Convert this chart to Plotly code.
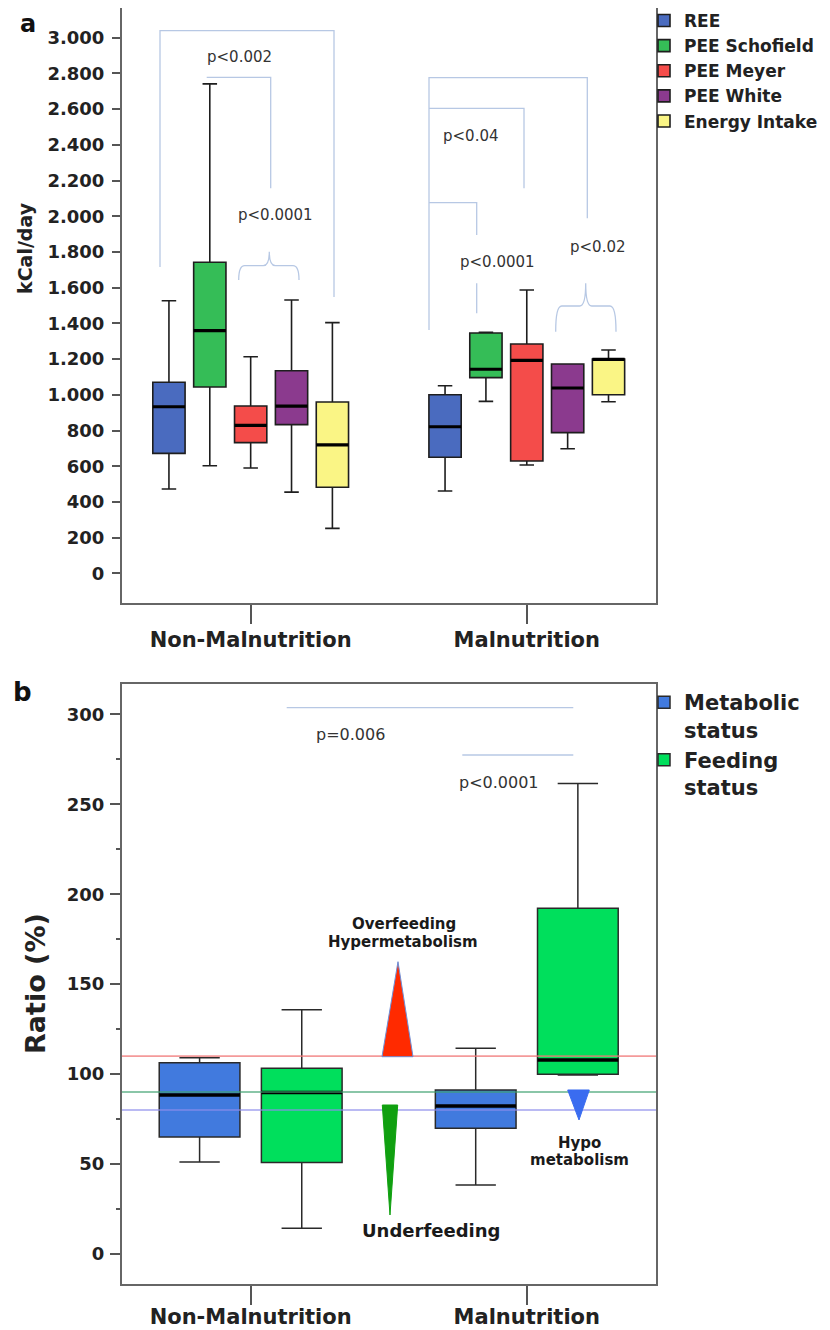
import plotly.graph_objects as go

# ---------------- data ----------------
groups = ["Non-Malnutrition", "Malnutrition"]

a_series = ["REE", "PEE Schofield", "PEE Meyer", "PEE White", "Energy Intake"]
a_colors = ["#4a6bbf", "#35bd57", "#f44c4a", "#8b3a8e", "#faf585"]
a_lowerfence = [[472, 461], [603, 963], [590, 607], [455, 698], [252, 961]]
a_q1 = [[672, 650], [1044, 1096], [732, 629], [833, 788], [482, 1000]]
a_median = [[933, 821], [1359, 1143], [829, 1193], [937, 1038], [720, 1198]]
a_q3 = [[1070, 1000], [1742, 1346], [937, 1284], [1135, 1172], [960, 1200]]
a_upperfence = [[1527, 1051], [2741, 1350], [1213, 1587], [1531, 1172], [1404, 1251]]

b_series = ["Metabolic<br>status", "Feeding<br>status"]
b_colors = ["#417ade", "#00df5c"]
b_lowerfence = [[51.1, 38.4], [14.3, 99.5]]
b_q1 = [[65.0, 69.9], [50.8, 99.9]]
b_median = [[88.4, 82.3], [89.7, 107.8]]
b_q3 = [[106.3, 91.2], [103.2, 192.2]]
b_upperfence = [[109.1, 114.3], [135.8, 261.6]]

b_ref_values = [110, 90, 80]
b_ref_colors = ["rgba(240,120,120,0.75)", "rgba(60,160,110,0.8)", "rgba(140,140,235,0.8)"]

# ---------------- page pixel -> paper helpers (for decorations) ----------------
# the page body has an 8px margin; plot area spans page pixels L..R, T..B
L, R, T, B = 122, 656, 8, 1284
W, H = R - L, B - T
FIG_W, FIG_H = 822, 1322


def px(x):
    return (x - L) / W


def py(y):
    return (B - y) / H


fig = go.Figure()

# panel a boxes
for i, name in enumerate(a_series):
    fig.add_trace(go.Box(
        x=groups, q1=a_q1[i], median=a_median[i], q3=a_q3[i],
        lowerfence=a_lowerfence[i], upperfence=a_upperfence[i],
        name=name, fillcolor=a_colors[i], line=dict(color="#1e1e1e", width=1.6),
        whiskerwidth=0.45, offsetgroup="a%d" % i, xaxis="x", yaxis="y",
        legend="legend", boxpoints=False, hoverinfo="skip"))
    fig.add_trace(go.Box(
        x=groups, q1=a_median[i], median=a_median[i], q3=a_median[i],
        lowerfence=a_median[i], upperfence=a_median[i],
        name=name, fillcolor="rgba(0,0,0,0)", line=dict(color="#000000", width=3.2),
        whiskerwidth=0, offsetgroup="a%d" % i, xaxis="x", yaxis="y",
        showlegend=False, boxpoints=False, hoverinfo="skip"))

# panel b boxes
for i, name in enumerate(b_series):
    fig.add_trace(go.Box(
        x=groups, q1=b_q1[i], median=b_median[i], q3=b_q3[i],
        lowerfence=b_lowerfence[i], upperfence=b_upperfence[i],
        name=name, fillcolor=b_colors[i], line=dict(color="#2a2a2a", width=1.5),
        whiskerwidth=0.5, offsetgroup="b%d" % i, xaxis="x2", yaxis="y2",
        legend="legend2", boxpoints=False, hoverinfo="skip"))
    fig.add_trace(go.Box(
        x=groups, q1=b_median[i], median=b_median[i], q3=b_median[i],
        lowerfence=b_median[i], upperfence=b_median[i],
        name=name, fillcolor="rgba(0,0,0,0)", line=dict(color="#000000", width=3.5),
        whiskerwidth=0, offsetgroup="b%d" % i, xaxis="x2", yaxis="y2",
        showlegend=False, boxpoints=False, hoverinfo="skip"))

shapes = []
annotations = []

# reference lines panel b
for v, c in zip(b_ref_values, b_ref_colors):
    shapes.append(dict(type="line", xref="x2 domain", yref="y2", x0=0, x1=1, y0=v, y1=v,
                       line=dict(color=c, width=1.6), layer="above"))

BR = "#b7c8e4"


def poly(pts):
    d = "M " + " L ".join("%.5f,%.5f" % (px(x), py(y)) for x, y in pts)
    shapes.append(dict(type="path", xref="paper", yref="paper", path=d,
                       line=dict(color=BR, width=1.3)))


def brace(x1, x2, xc, yb, yh, yt):
    r = 6
    d = ("M %.5f,%.5f Q %.5f,%.5f %.5f,%.5f L %.5f,%.5f Q %.5f,%.5f %.5f,%.5f "
         "Q %.5f,%.5f %.5f,%.5f L %.5f,%.5f Q %.5f,%.5f %.5f,%.5f") % (
        px(x1), py(yb), px(x1), py(yh), px(x1 + r), py(yh),
        px(xc - r), py(yh), px(xc), py(yh), px(xc), py(yt),
        px(xc), py(yh), px(xc + r), py(yh),
        px(x2 - r), py(yh), px(x2), py(yh), px(x2), py(yb))
    shapes.append(dict(type="path", xref="paper", yref="paper", path=d,
                       line=dict(color=BR, width=1.3)))


# panel a brackets
poly([(160, 267), (160, 30.7), (334, 30.7), (334, 297)])
poly([(206.7, 77.3), (270.7, 77.3), (270.7, 188.3)])
brace(238.7, 299, 269.3, 280, 265.7, 251.7)
poly([(429, 330), (429, 77.7), (587.3, 77.7), (587.3, 218.3)])
poly([(429, 108.3), (524, 108.3), (524, 188.3)])
poly([(429, 202.7), (476.7, 202.7), (476.7, 235)])
poly([(476.7, 283.3), (476.7, 313.3)])
brace(555.7, 616, 585.7, 331.7, 306, 283.3)

# panel b brackets
poly([(286.7, 707.7), (573.3, 707.7)])
poly([(462.3, 755), (573.3, 755)])


def tri(pts, fill, line=None):
    d = "M " + " L ".join("%.5f,%.5f" % (px(x), py(y)) for x, y in pts) + " Z"
    shapes.append(dict(type="path", xref="paper", yref="paper", path=d, fillcolor=fill,
                       line=dict(color=line or fill, width=1), layer="above"))


tri([(382, 1056.7), (398, 961.7), (413, 1056.7)], "#ff2a00", "#6d8fd8")
tri([(382.3, 1105), (397.7, 1105), (390, 1215)], "#10a010")
tri([(567.7, 1090), (589.3, 1090), (579, 1120)], "#3a6cf0")


def text(x, y, s, size=15, bold=False, color="#333333", angle=0):
    annotations.append(dict(xref="paper", yref="paper", x=px(x), y=py(y), text=s,
                            showarrow=False, xanchor="center", yanchor="middle",
                            textangle=angle,
                            font=dict(family="DejaVu Sans", size=size, color=color,
                                      weight="bold" if bold else "normal")))


text(239, 57.3, "p<0.002")
text(275.5, 215, "p<0.0001")
text(471.3, 136, "p<0.04")
text(497.5, 262.3, "p<0.0001")
text(598, 246.7, "p<0.02")
text(350.5, 734, "p=0.006", size=16)
text(498.8, 782.3, "p<0.0001", size=16)
text(403.5, 923.5, "Overfeeding", size=15, bold=True, color="#1a1a1a")
text(403, 942, "Hypermetabolism", size=15, bold=True, color="#1a1a1a")
text(430.5, 1230.7, "Underfeeding", size=18, bold=True, color="#1a1a1a")
text(579, 1143.3, "Hypo", size=15, bold=True, color="#1a1a1a")
text(579, 1160, "metabolism", size=15, bold=True, color="#1a1a1a")
text(28, 24, "a", size=24, bold=True, color="#111111")
text(22, 692, "b", size=26, bold=True, color="#111111")
# axis titles
text(25, 248, "kCal/day", size=19, bold=True, color="#222222", angle=-90)
text(35, 984, "Ratio (%)", size=27, bold=True, color="#222222", angle=-90)

fig.update_layout(
    width=FIG_W, height=FIG_H,
    margin=dict(l=L - 8, r=FIG_W - (R - 8), t=T - 8, b=FIG_H - (B - 8), autoexpand=False),
    plot_bgcolor="white", paper_bgcolor="white",
    boxmode="group", boxgap=0.26, boxgroupgap=0.21,
    separators=",.",
    font=dict(family="DejaVu Sans", color="#222222"),
    shapes=shapes, annotations=annotations,
    legend=dict(x=px(644), y=py(3), xanchor="left", yanchor="top",
                bgcolor="rgba(0,0,0,0)", tracegroupgap=0,
                font=dict(family="DejaVu Sans", size=17, weight="bold", color="#222222")),
    legend2=dict(x=px(644), y=py(682), xanchor="left", yanchor="top", valign="top",
                 bgcolor="rgba(0,0,0,0)", tracegroupgap=0,
                 font=dict(family="DejaVu Sans", size=21, weight="bold", color="#222222")),
)

axis_common = dict(showline=True, linecolor="#666666", linewidth=2, mirror=True,
                   showgrid=False, zeroline=False, ticks="outside", tickcolor="#555555")

fig.update_layout(
    xaxis=dict(axis_common, domain=[0, 1], anchor="y", type="category",
               categoryorder="array", categoryarray=groups, range=[-0.466, 1.468],
               ticklen=19, tickwidth=2, ticklabelstandoff=-2,
               tickfont=dict(family="DejaVu Sans", size=21, weight="bold", color="#222222")),
    yaxis=dict(axis_common, domain=[py(603), 1], anchor="x", range=[-166, 3166],
               tick0=0, dtick=200, tickformat=",d", ticklen=8, tickwidth=1.5,
               ticklabelstandoff=4,
               tickfont=dict(family="DejaVu Sans", size=18, weight="bold", color="#222222")),
    xaxis2=dict(axis_common, domain=[0, 1], anchor="y2", type="category",
                categoryorder="array", categoryarray=groups, range=[-0.466, 1.468],
                ticklen=19, tickwidth=2, ticklabelstandoff=-6,
                tickfont=dict(family="DejaVu Sans", size=21, weight="bold", color="#222222")),
    yaxis2=dict(axis_common, domain=[0, py(684.3)], anchor="x2", range=[-16.7, 316.7],
                tick0=0, dtick=50, ticklen=10, tickwidth=1.5, ticklabelstandoff=2,
                minor=dict(dtick=25, ticks="outside", ticklen=4, tickcolor="#555555"),
                tickfont=dict(family="DejaVu Sans", size=18, weight="bold", color="#222222")),
)

fig.write_html("out.html")
